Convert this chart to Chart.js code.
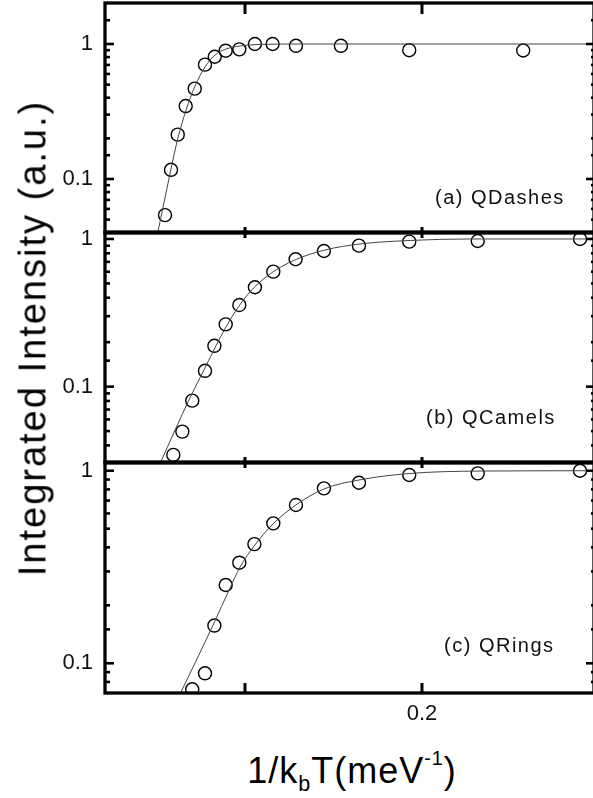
<!DOCTYPE html>
<html lang="en">
<head>
  <meta charset="UTF-8" />
  <title>Integrated Intensity vs 1/kbT</title>
  <script src="https://cdn.jsdelivr.net/npm/chart.js"></script>
  <style>
    body { margin: 0; background: #fff; overflow: hidden; font-family: 'Liberation Sans', Arial, sans-serif; }
    .fig { position: relative; width: 593px; height: 798px; overflow: hidden; }
    .fig canvas { position: absolute; left: 0; }
    .panel-label { position: absolute; font-size: 20px; letter-spacing: 1.5px; color: #111; white-space: nowrap; }
    #yTitle {
      position: absolute; left: 33px; top: 338px; font-size: 38px; letter-spacing: 2px;
      transform: translate(-50%, -50%) rotate(-90deg); white-space: nowrap;
    }
    #xTitle {
      position: absolute; left: 352px; top: 772px; font-size: 36px; letter-spacing: 1px;
      transform: translate(-50%, -50%); white-space: nowrap;
    }
    #xTitle sub { font-size: 0.6em; vertical-align: -0.35em; }
    #xTitle sup { font-size: 0.55em; vertical-align: 0.9em; }
  </style>
</head>

<body>
  <div class="fig">
    <canvas id="chartA" width="600" height="240" style="top:0px"></canvas>
    <canvas id="chartB" width="600" height="245" style="top:225px"></canvas>
    <canvas id="chartC" width="600" height="285" style="top:455px"></canvas>

    <div class="panel-label" style="left:435px; top:186px">(a) QDashes</div>
    <div class="panel-label" style="left:426px; top:406px">(b) QCamels</div>
    <div class="panel-label" style="left:444px; top:634px">(c) QRings</div>

    <div id="yTitle">Integrated Intensity (a.u.)</div>
    <div id="xTitle">1/k<sub>b</sub>T(meV<sup>-1</sup>)</div>
  </div>

  <script>
    // tick labels
    const xTickValues = [0.1, 0.2];
    const xTickLabels = ['', '0.2'];
    const yTickValues = [0.1, 1];
    const yTickLabels = ['0.1', '1'];

    // (a) QDashes
    const dashesX = [0.0548, 0.0582, 0.0620, 0.0665, 0.0716, 0.0774, 0.0829, 0.0891, 0.0968, 0.1056, 0.1156, 0.1288, 0.1542, 0.1928, 0.2572];
    const dashesY = [0.054, 0.117, 0.213, 0.347, 0.467, 0.703, 0.805, 0.892, 0.913, 1.0, 1.0, 0.97, 0.97, 0.90, 0.895];
    const dashesFitX = [0.0503, 0.0542, 0.0576, 0.0621, 0.0667, 0.0718, 0.0774, 0.0831, 0.0893, 0.0972, 0.1068, 0.1311, 0.2972];
    const dashesFitY = [0.0378, 0.0664, 0.109, 0.201, 0.324, 0.489, 0.676, 0.829, 0.918, 0.967, 0.991, 1.0, 1.0];

    // (b) QCamels
    const camelsX = [0.0595, 0.0646, 0.0702, 0.0774, 0.0827, 0.0891, 0.0968, 0.1056, 0.1160, 0.1286, 0.1446, 0.1644, 0.1928, 0.2315, 0.2893];
    const camelsY = [0.0345, 0.0496, 0.0804, 0.128, 0.189, 0.264, 0.357, 0.471, 0.601, 0.729, 0.829, 0.901, 0.959, 0.969, 1.0];
    const camelsFitX = [0.0514, 0.0605, 0.0689, 0.0774, 0.0859, 0.0944, 0.1028, 0.1141, 0.1282, 0.1452, 0.1650, 0.1932, 0.2271, 0.2972];
    const camelsFitY = [0.029, 0.0509, 0.0838, 0.134, 0.214, 0.321, 0.438, 0.579, 0.721, 0.842, 0.925, 0.977, 1.0, 1.0];

    // (c) QRings
    const ringsX = [0.0702, 0.0774, 0.0827, 0.0891, 0.0968, 0.1053, 0.1160, 0.1288, 0.1446, 0.1644, 0.1928, 0.2315, 0.2893];
    const ringsY = [0.0733, 0.0887, 0.157, 0.255, 0.333, 0.416, 0.533, 0.664, 0.810, 0.866, 0.950, 0.969, 1.0];
    const ringsFitX = [0.0633, 0.0734, 0.0825, 0.0910, 0.0972, 0.1051, 0.1158, 0.1288, 0.1446, 0.1644, 0.1927, 0.2328, 0.2972];
    const ringsFitY = [0.0693, 0.1078, 0.1619, 0.240, 0.316, 0.406, 0.529, 0.664, 0.804, 0.895, 0.967, 0.996, 1.0];

    const X_MIN = 0.0209, X_MAX = 0.2972;

    function pts(xs, ys) {
      return xs.map((x, i) => ({ x: x, y: ys[i] }));
    }

    function labelFor(values, labels, v) {
      const i = values.findIndex(t => Math.abs(t - v) < 1e-9);
      return i < 0 ? '' : labels[i];
    }

    function isDecade(v) {
      const l = Math.log10(v);
      return Math.abs(l - Math.round(l)) < 1e-6;
    }

    const frameTicks = {
      id: 'frameTicks',
      afterDraw(chart, args, opts) {
        const { ctx, chartArea: a } = chart;
        const x = chart.scales.x, y = chart.scales.y;
        ctx.save();
        ctx.strokeStyle = '#000';
        const seg = (x1, y1, x2, y2) => { ctx.beginPath(); ctx.moveTo(x1, y1); ctx.lineTo(x2, y2); ctx.stroke(); };

        ctx.lineWidth = 2.6;
        y.ticks.forEach(t => {
          const p = y.getPixelForValue(t.value);
          if (p < a.top + 2 || p > a.bottom - 2) return;
          const major = isDecade(t.value);
          seg(a.left, p, a.left + (major ? 9 : 5), p);
          seg(a.right - (major ? 8 : 3), p, a.right, p);
        });

        ctx.lineWidth = 3;
        xTickValues.forEach(v => {
          const p = x.getPixelForValue(v);
          seg(p, a.top, p, a.top + opts.topLen);
          seg(p, a.bottom, p, a.bottom - opts.bottomLen);
        });

        ctx.lineWidth = 3.3;
        ctx.strokeRect(a.left, a.top, a.right - a.left, a.bottom - a.top);
        ctx.restore();
      }
    };

    function makePanel(id, data, fit, yMin, yMax, pad, showX, tickLens) {
      const ctx = document.getElementById(id).getContext('2d');
      return new Chart(ctx, {
        type: 'scatter',
        data: {
          datasets: [
            {
              data: fit,
              showLine: true,
              borderColor: '#444',
              borderWidth: 1,
              pointRadius: 0,
              cubicInterpolationMode: 'monotone',
              fill: false
            },
            {
              data: data,
              showLine: false,
              pointStyle: 'circle',
              pointRadius: 6.5,
              pointBorderWidth: 1.4,
              pointBorderColor: '#000',
              pointBackgroundColor: 'rgba(0,0,0,0)'
            }
          ]
        },
        options: {
          responsive: false,
          animation: false,
          devicePixelRatio: 1,
          events: [],
          layout: { padding: pad, autoPadding: false },
          plugins: {
            legend: { display: false },
            tooltip: { enabled: false },
            frameTicks: tickLens
          },
          scales: {
            x: {
              type: 'linear',
              min: X_MIN,
              max: X_MAX,
              display: showX,
              afterBuildTicks: s => { s.ticks = xTickValues.map(v => ({ value: v })); },
              afterFit: s => {
                if (showX) s.height = 47;
                s.paddingLeft = 0;
                s.paddingRight = 0;
              },
              grid: { display: false, drawTicks: false },
              border: { display: false },
              ticks: {
                autoSkip: false,
                maxRotation: 0,
                padding: 8,
                color: '#111',
                font: { family: "'Liberation Sans', Arial, sans-serif", size: 22 },
                callback: v => labelFor(xTickValues, xTickLabels, v)
              }
            },
            y: {
              type: 'logarithmic',
              min: yMin,
              max: yMax,
              afterFit: s => {
                s.width = 105;
                s.paddingTop = 0;
                s.paddingBottom = 0;
              },
              grid: { display: false, drawTicks: false },
              border: { display: false },
              ticks: {
                autoSkip: false,
                padding: 12,
                color: '#111',
                font: { family: "'Liberation Sans', Arial, sans-serif", size: 22 },
                callback: v => labelFor(yTickValues, yTickLabels, v)
              }
            }
          }
        },
        plugins: [frameTicks]
      });
    }

    makePanel('chartA', pts(dashesX, dashesY), pts(dashesFitX, dashesFitY), 0.0398, 2.013,
      { top: 3, bottom: 7, right: 6, left: 0 }, false, { topLen: 11, bottomLen: 6 });
    makePanel('chartB', pts(camelsX, camelsY), pts(camelsFitX, camelsFitY), 0.0304, 1.115,
      { top: 7, bottom: 7, right: 6, left: 0 }, false, { topLen: 6, bottomLen: 6 });
    makePanel('chartC', pts(ringsX, ringsY), pts(ringsFitX, ringsFitY), 0.0701, 1.11,
      { top: 7, bottom: 0, right: 6, left: 0 }, true, { topLen: 6, bottomLen: 10 });
  </script>
</body>

</html>
